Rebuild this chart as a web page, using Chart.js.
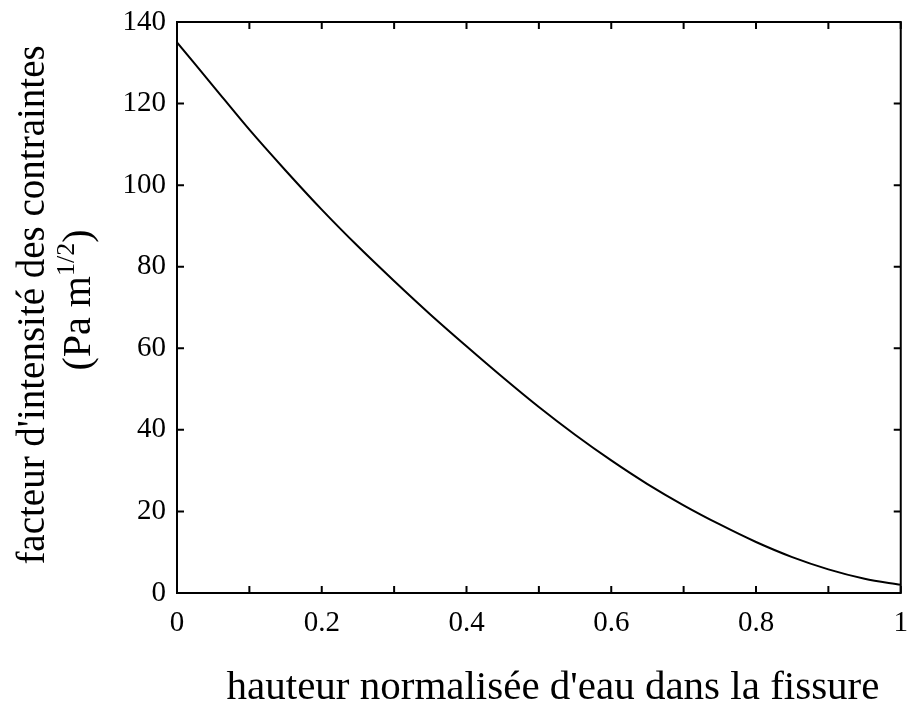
<!DOCTYPE html>
<html>
<head>
<meta charset="utf-8">
<script src="https://cdn.jsdelivr.net/npm/chart.js@4.4.0/dist/chart.umd.min.js"></script>
<style>
html,body{margin:0;padding:0;background:#fff;font-family:"Liberation Serif",serif;}
#wrap{width:908px;height:705px;position:relative;}
</style>
</head>
<body>
<div id="wrap"><canvas id="c"></canvas></div>
<script>
// Data
const hauteur = [0, 0.05, 0.1, 0.15, 0.2, 0.25, 0.3, 0.35, 0.4, 0.45, 0.5, 0.55, 0.6, 0.65, 0.7, 0.75, 0.8, 0.85, 0.9, 0.95, 1.0];
const facteur = [135, 124.3, 113.6, 103.6, 94, 85, 76.5, 68.3, 60.5, 52.9, 45.6, 38.8, 32.5, 26.7, 21.5, 16.8, 12.5, 8.8, 5.8, 3.5, 2.0];
const xTickStep = 0.1;
const yTickStep = 20;
const xTitle = "hauteur normalisée d'eau dans la fissure";
const yTitleLine1 = "facteur d'intensité des contraintes";
const yTitleLine2 = ["(Pa m", "1/2", ")"];

const FONT = '"Liberation Serif", "Times New Roman", Times, serif';

const points = hauteur.map((x, i) => ({x: x, y: facteur[i]}));

const framePlugin = {
  id: 'frame',
  afterDraw(chart) {
    const ctx = chart.ctx;
    const a = chart.chartArea;
    const xs = chart.scales.x, ys = chart.scales.y;
    ctx.save();
    ctx.strokeStyle = '#000';
    ctx.lineWidth = 2;
    ctx.strokeRect(a.left, a.top, a.right - a.left, a.bottom - a.top);
    const tl = 7;
    ctx.beginPath();
    xs.ticks.forEach(t => {
      const p = xs.getPixelForValue(t.value);
      ctx.moveTo(p, a.bottom); ctx.lineTo(p, a.bottom - tl);
      ctx.moveTo(p, a.top); ctx.lineTo(p, a.top + tl);
    });
    ys.ticks.forEach(t => {
      const p = ys.getPixelForValue(t.value);
      ctx.moveTo(a.left, p); ctx.lineTo(a.left + tl, p);
      ctx.moveTo(a.right, p); ctx.lineTo(a.right - tl, p);
    });
    ctx.stroke();

    ctx.fillStyle = '#000';
    ctx.textBaseline = 'alphabetic';

    // x title
    ctx.font = '41px ' + FONT;
    ctx.textAlign = 'center';
    ctx.fillText(xTitle, 553, 699);

    // y title line 1 (rotated)
    ctx.save();
    ctx.translate(44, 305);
    ctx.rotate(-Math.PI / 2);
    ctx.font = '39px ' + FONT;
    ctx.textAlign = 'center';
    ctx.fillText(yTitleLine1, 0, 0);
    ctx.restore();

    // y title line 2 with superscript
    const big = '40px ' + FONT, small = '26px ' + FONT;
    ctx.save();
    ctx.translate(90, 300);
    ctx.rotate(-Math.PI / 2);
    ctx.font = big; const w1 = ctx.measureText(yTitleLine2[0]).width;
    ctx.font = small; const w2 = ctx.measureText(yTitleLine2[1]).width;
    ctx.font = big; const w3 = ctx.measureText(yTitleLine2[2]).width;
    const tot = w1 + w2 + w3;
    ctx.textAlign = 'left';
    let sx = -tot / 2;
    ctx.font = big; ctx.fillText(yTitleLine2[0], sx, 0); sx += w1;
    ctx.font = small; ctx.fillText(yTitleLine2[1], sx, -16); sx += w2;
    ctx.font = big; ctx.fillText(yTitleLine2[2], sx, 0);
    ctx.restore();
    ctx.restore();
  }
};

function build() {
  new Chart(document.getElementById('c'), {
    type: 'line',
    data: {
      datasets: [{
        data: points,
        borderColor: '#000',
        borderWidth: 2,
        pointRadius: 0,
        fill: false,
        cubicInterpolationMode: 'monotone'
      }]
    },
    options: {
      responsive: true,
      maintainAspectRatio: false,
      animation: false,
      layout: {padding: {top: 22, right: 7, left: 0, bottom: 0}},
      plugins: {legend: {display: false}, tooltip: {enabled: false}},
      scales: {
        x: {
          type: 'linear', min: 0, max: 1,
          grid: {display: false, drawTicks: true, tickLength: 13},
          border: {display: false},
          ticks: {
            stepSize: xTickStep, color: '#000', padding: 0, maxRotation: 0, autoSkip: false,
            font: {family: FONT, size: 29},
            callback: v => (Math.round(v * 10) % 2 === 0) ? String(+v.toFixed(1)) : ''
          },
          afterFit: s => { s.height = 112; }
        },
        y: {
          min: 0, max: 140,
          grid: {display: false, drawTicks: true, tickLength: 11},
          border: {display: false},
          ticks: {
            stepSize: yTickStep, color: '#000', padding: 0,
            font: {family: FONT, size: 29}
          },
          afterFit: s => { s.width = 177; }
        }
      }
    },
    plugins: [framePlugin]
  });
}

Promise.all([
  document.fonts.load('29px "Liberation Serif"'),
  document.fonts.load('40px "Liberation Serif"')
]).then(build, build);
</script>
</body>
</html>
